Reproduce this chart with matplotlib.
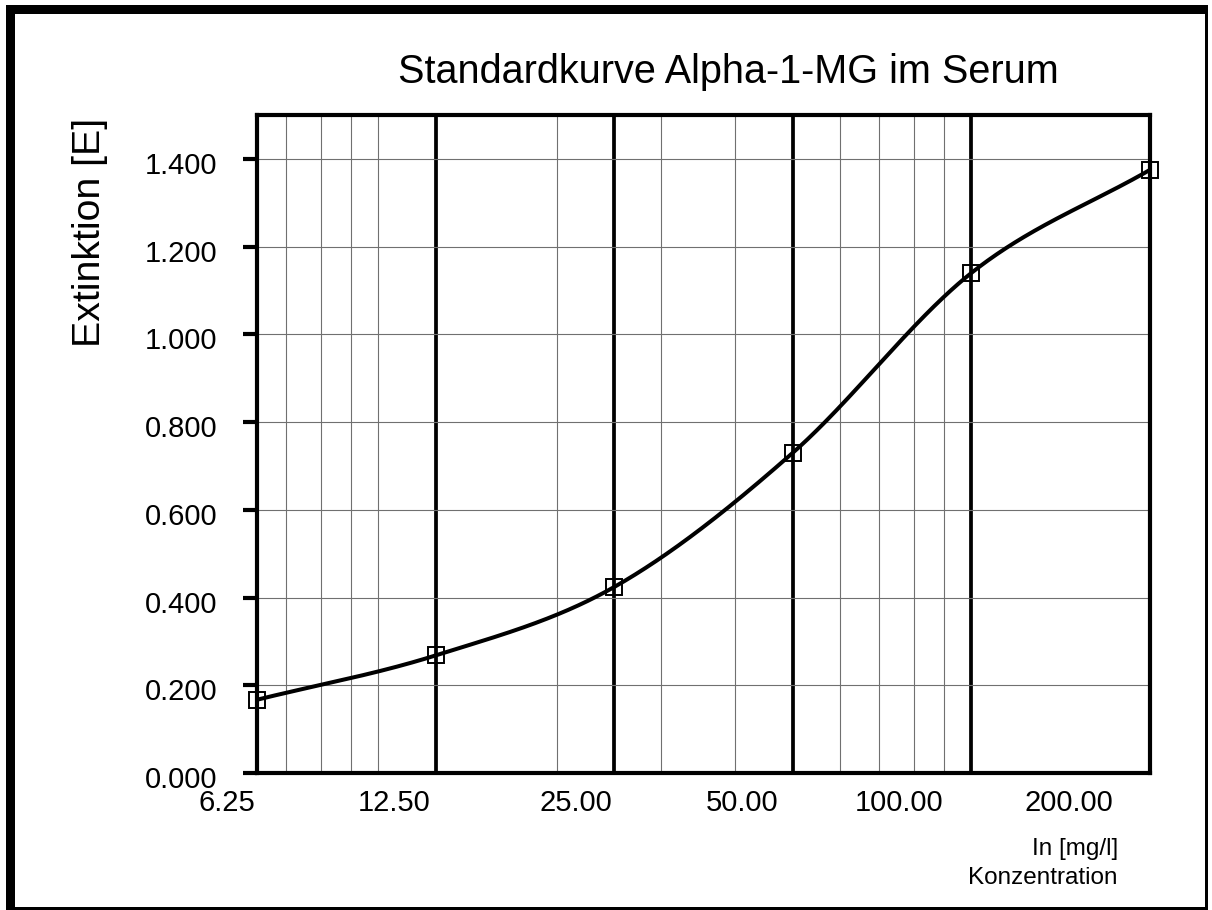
import numpy as np
import matplotlib
matplotlib.use('Agg')
import matplotlib.pyplot as plt
from matplotlib.ticker import FixedLocator, LogLocator, NullFormatter, FixedFormatter
from matplotlib.transforms import blended_transform_factory, ScaledTranslation
from matplotlib.patches import Rectangle

# ---------------- data ----------------
conc = [6.25, 12.5, 25.0, 50.0, 100.0, 200.0]
ext = [0.167, 0.268, 0.424, 0.730, 1.140, 1.375]
x_tick_labels = ['6.25', '12.50', '25.00', '50.00', '100.00', '200.00']
y_ticks = [0.0, 0.2, 0.4, 0.6, 0.8, 1.0, 1.2, 1.4]
y_tick_labels = ['0.000', '0.200', '0.400', '0.600', '0.800', '1.000', '1.200', '1.400']
title = 'Standardkurve Alpha-1-MG im Serum'
ylabel = 'Extinktion [E]'
xunit = 'In [mg/l]'
xname = 'Konzentration'

# label shifts (px) as in the original layout
x_label_shift_px = [-2, -5, -2, -14, -28, -37]

plt.rcParams['font.family'] = ['Liberation Sans', 'DejaVu Sans']

W, H, DPI = 1212, 910, 100
fig = plt.figure(figsize=(W / DPI, H / DPI), dpi=DPI)
fig.patch.set_facecolor('white')

ax = fig.add_axes([257 / W, 1 - 773 / H, (1150 - 257) / W, (773 - 115) / H])
ax.set_xscale('log')
ax.set_xlim(conc[0], conc[-1])
ax.set_ylim(0, 1.5)


def cardinal_spline(u, y, per_seg=120):
    """Cubic Hermite curve through the points, tangents by central differences."""
    u = np.asarray(u, float)
    y = np.asarray(y, float)
    n = len(u)
    m = np.zeros(n)
    m[0] = (y[1] - y[0]) / (u[1] - u[0])
    m[-1] = (y[-1] - y[-2]) / (u[-1] - u[-2])
    for i in range(1, n - 1):
        m[i] = (y[i + 1] - y[i - 1]) / (u[i + 1] - u[i - 1])
    us, ys = [], []
    for i in range(n - 1):
        h = u[i + 1] - u[i]
        t = np.linspace(0, 1, per_seg, endpoint=(i == n - 2))
        h00 = 2 * t ** 3 - 3 * t ** 2 + 1
        h10 = t ** 3 - 2 * t ** 2 + t
        h01 = -2 * t ** 3 + 3 * t ** 2
        h11 = t ** 3 - t ** 2
        us.append(u[i] + t * h)
        ys.append(h00 * y[i] + h10 * h * m[i] + h01 * y[i + 1] + h11 * h * m[i + 1])
    return np.concatenate(us), np.concatenate(ys)


uu, yy = cardinal_spline(np.log(conc), ext)
ax.plot(np.exp(uu), yy, color='black', lw=2.9, solid_capstyle='round', zorder=4, clip_on=False)
ax.plot(conc, ext, linestyle='none', marker='s', markersize=12,
        markerfacecolor='none', markeredgecolor='black', markeredgewidth=1.4,
        zorder=5, clip_on=False)

# x axis: major ticks at standards (thick grid), minor log grid
ax.xaxis.set_major_locator(FixedLocator(conc))
ax.xaxis.set_major_formatter(NullFormatter())
ax.xaxis.set_minor_locator(LogLocator(base=10, subs=np.arange(1, 10)))
ax.xaxis.set_minor_formatter(NullFormatter())
ax.grid(which='major', axis='x', color='black', lw=2.7)
ax.grid(which='minor', axis='x', color='#707070', lw=0.8)
ax.tick_params(axis='x', which='both', length=0)

# y axis
ax.yaxis.set_major_locator(FixedLocator(y_ticks))
ax.yaxis.set_major_formatter(FixedFormatter(y_tick_labels))
ax.grid(which='major', axis='y', color='#707070', lw=0.8)
ax.tick_params(axis='y', which='major', direction='out', length=10, width=3,
               pad=18.5, labelsize=21, color='black')
ax.set_axisbelow(True)
for tk in ax.yaxis.get_major_ticks():
    tk.label1.set_transform(tk.label1.get_transform()
                            + ScaledTranslation(0, -4 / DPI, fig.dpi_scale_trans))

for s in ax.spines.values():
    s.set_linewidth(3.0)
    s.set_color('black')

# x tick labels, right-aligned to the standards
blend = blended_transform_factory(ax.transData, ax.transAxes)
for xv, lab, dx in zip(conc, x_tick_labels, x_label_shift_px):
    tr = blend + ScaledTranslation(dx / DPI, -38 / DPI, fig.dpi_scale_trans)
    ax.text(xv, 0, lab, transform=tr, ha='right', va='baseline', fontsize=21, clip_on=False)

fig.text(728 / W, 1 - 83 / H, title, ha='center', va='baseline', fontsize=28.5)
fig.text(90 / W, 1 - 232.5 / H, ylabel, ha='center', va='center', rotation=90, fontsize=28.3)
fig.text(1118 / W, 1 - 855 / H, xunit, ha='right', va='baseline', fontsize=17.5)
fig.text(1118 / W, 1 - 884 / H, xname, ha='right', va='baseline', fontsize=17.5)

# outer frame (thick left/top, thin right/bottom)
def px_rect(x0, y0, x1, y1):
    fig.patches.append(Rectangle((x0 / W, 1 - y1 / H), (x1 - x0) / W, (y1 - y0) / H,
                                 transform=fig.transFigure, facecolor='black',
                                 edgecolor='none', zorder=10))

px_rect(6, 5, 15, 910)
px_rect(6, 5, 1208, 14)
px_rect(1205, 5, 1208, 910)
px_rect(6, 907, 1208, 910)

fig.savefig('out.png', dpi=DPI)
